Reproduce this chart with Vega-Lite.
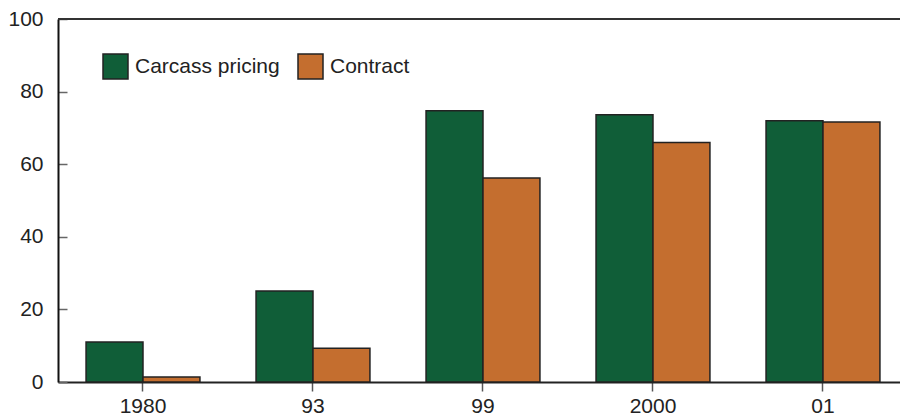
{
  "$schema": "https://vega.github.io/schema/vega-lite/v6.json",
  "width": 842,
  "height": 363,
  "autosize": "none",
  "padding": {"left": 58, "top": 19, "right": 0, "bottom": 37},
  "background": "white",
  "config": {
    "view": {"stroke": null},
    "font": "Liberation Sans",
    "axis": {"labelFont": "Liberation Sans", "labelFontSize": 21, "labelColor": "#222", "grid": false, "title": null}
  },
  "data": {
    "values": [
      {"year": "1980", "series": "Carcass pricing", "share": 11.0},
      {"year": "1980", "series": "Contract", "share": 1.4},
      {"year": "93", "series": "Carcass pricing", "share": 25.1},
      {"year": "93", "series": "Contract", "share": 9.3},
      {"year": "99", "series": "Carcass pricing", "share": 74.7},
      {"year": "99", "series": "Contract", "share": 56.2},
      {"year": "2000", "series": "Carcass pricing", "share": 73.6},
      {"year": "2000", "series": "Contract", "share": 66.0},
      {"year": "01", "series": "Carcass pricing", "share": 72.0},
      {"year": "01", "series": "Contract", "share": 71.6}
    ]
  },
  "layer": [
    {
      "mark": {"type": "bar", "stroke": "#222", "strokeWidth": 1.5},
      "encoding": {
        "x": {
          "field": "year", "type": "nominal", "sort": null,
          "scale": {"paddingInner": 0.33, "paddingOuter": 0.1415, "align": 0.583},
          "axis": {"labelAngle": 0, "labelFontSize": 21, "domainColor": "#222", "domainWidth": 2, "tickColor": "#555", "tickWidth": 1.5, "tickSize": 9, "labelPadding": 4}
        },
        "xOffset": {"field": "series", "type": "nominal", "sort": ["Carcass pricing", "Contract"]},
        "y": {
          "field": "share", "type": "quantitative",
          "scale": {"domain": [0, 100], "nice": false},
          "axis": {"values": [0, 20, 40, 60, 80, 100], "labelFontSize": 21, "domainColor": "#111", "domainWidth": 2, "tickColor": "#666", "tickWidth": 1.5, "tickSize": -9, "labelPadding": 24}
        },
        "color": {
          "field": "series", "type": "nominal",
          "scale": {"domain": ["Carcass pricing", "Contract"], "range": ["#105E38", "#C46E2F"]},
          "legend": {
            "title": null, "orient": "none", "legendX": 44, "legendY": 34, "direction": "horizontal",
            "symbolType": "square", "symbolSize": 625, "symbolStrokeColor": "#222", "symbolStrokeWidth": 1.5,
            "symbolOpacity": 1, "labelFontSize": 21, "labelColor": "#222", "labelFont": "Liberation Sans",
            "labelOffset": 6, "columnPadding": 15, "padding": 0
          }
        }
      }
    },
    {
      "mark": {"type": "rule", "color": "#333", "strokeWidth": 1.5},
      "encoding": {"y": {"datum": 100}}
    }
  ]
}
